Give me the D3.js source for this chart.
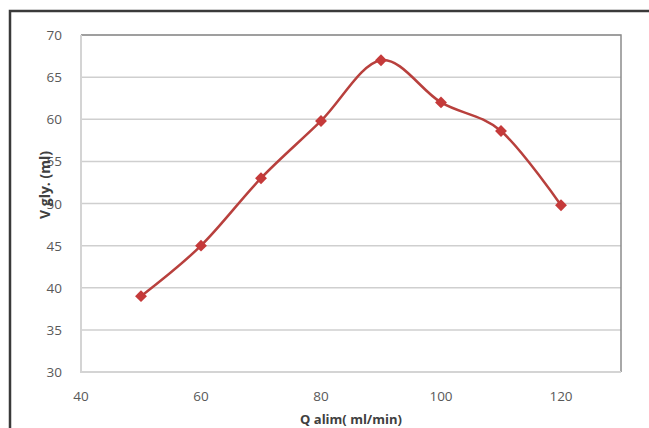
<!DOCTYPE html>
<html>
<head>
<meta charset="utf-8">
<script src="https://cdn.jsdelivr.net/npm/d3@7"></script>
<style>
body { margin: 0; background: #fff; }
text { font-family: "Open Sans", "DejaVu Sans", sans-serif; }
</style>
</head>
<body>
<div id="div_id_main"></div>
<script>
var vQAlim = [50, 60, 70, 80, 90, 100, 110, 120];
var vVGly = [39, 45, 53, 59.8, 67, 62, 58.6, 49.8];
var vXTicks = [40, 60, 80, 100, 120];
var vYTicks = [30, 35, 40, 45, 50, 55, 60, 65, 70];

var WIDTH = 649, HEIGHT = 428;
var PLOT_LEFT = 81, PLOT_RIGHT = 621, PLOT_TOP = 35, PLOT_BOTTOM = 372;
var COLOR_LINE = "#b8403d";
var COLOR_MARKER = "#c53a3a";

var svgMain = d3.select("#div_id_main").append("svg")
	.attr("width", WIDTH).attr("height", HEIGHT);

// outer frame (top + left only)
svgMain.append("path")
	.attr("d", "M10," + HEIGHT + " L10,11 L" + WIDTH + ",11")
	.attr("fill", "none").attr("stroke", "#3a3a3a").attr("stroke-width", 2.5);

var fScale_X = d3.scaleLinear().domain([40, 130]).range([PLOT_LEFT, PLOT_RIGHT]);
var fScale_Y = d3.scaleLinear().domain([30, 70]).range([PLOT_BOTTOM, PLOT_TOP]);

// gridlines
svgMain.selectAll("line.grid").data(vYTicks.slice(1)).enter().append("line")
	.attr("class", "grid")
	.attr("x1", PLOT_LEFT).attr("x2", PLOT_RIGHT)
	.attr("y1", function (d) { return fScale_Y(d); })
	.attr("y2", function (d) { return fScale_Y(d); })
	.attr("stroke", "#cfcfcf").attr("stroke-width", 1.5);

// plot border
svgMain.append("path")
	.attr("d", "M" + PLOT_LEFT + "," + PLOT_TOP + " L" + PLOT_RIGHT + "," + PLOT_TOP + " L" + PLOT_RIGHT + "," + PLOT_BOTTOM)
	.attr("fill", "none").attr("stroke", "#8c8c8c").attr("stroke-width", 1.5);
svgMain.append("path")
	.attr("d", "M" + PLOT_LEFT + "," + PLOT_TOP + " L" + PLOT_LEFT + "," + PLOT_BOTTOM + " L" + PLOT_RIGHT + "," + PLOT_BOTTOM)
	.attr("fill", "none").attr("stroke", "#d4d4d4").attr("stroke-width", 2);

// tick labels
svgMain.selectAll("text.ytick").data(vYTicks).enter().append("text")
	.attr("class", "ytick")
	.attr("x", 62).attr("y", function (d) { return fScale_Y(d) + 5; })
	.attr("text-anchor", "end").attr("font-size", 13.5).attr("fill", "#595959")
	.text(function (d) { return d; });

svgMain.selectAll("text.xtick").data(vXTicks).enter().append("text")
	.attr("class", "xtick")
	.attr("x", function (d) { return fScale_X(d); }).attr("y", 401)
	.attr("text-anchor", "middle").attr("font-size", 13.5).attr("fill", "#595959")
	.text(function (d) { return d; });

// axis titles
svgMain.append("text")
	.attr("x", 351).attr("y", 424)
	.attr("text-anchor", "middle").attr("font-size", 13).attr("font-weight", "bold").attr("fill", "#404040")
	.text("Q alim( ml/min)");

svgMain.append("text")
	.attr("transform", "translate(50,185) rotate(-90)")
	.attr("text-anchor", "middle").attr("font-size", 14).attr("font-weight", "bold").attr("fill", "#404040")
	.text("V gly. (ml)");

// series
var dsPoints = vQAlim.map(function (q, i) { return [q, vVGly[i]]; });

var line = d3.line()
	.x(function (d) { return fScale_X(d[0]); })
	.y(function (d) { return fScale_Y(d[1]); })
	.curve(d3.curveCardinal.tension(0));

svgMain.append("path")
	.datum(dsPoints)
	.attr("d", line)
	.attr("fill", "none").attr("stroke", COLOR_LINE).attr("stroke-width", 2.5);

svgMain.selectAll("path.marker").data(dsPoints).enter().append("path")
	.attr("class", "marker")
	.attr("d", d3.symbol().type(d3.symbolDiamond2).size(90))
	.attr("transform", function (d) { return "translate(" + fScale_X(d[0]) + "," + fScale_Y(d[1]) + ")"; })
	.attr("fill", COLOR_MARKER);
</script>
</body>
</html>
